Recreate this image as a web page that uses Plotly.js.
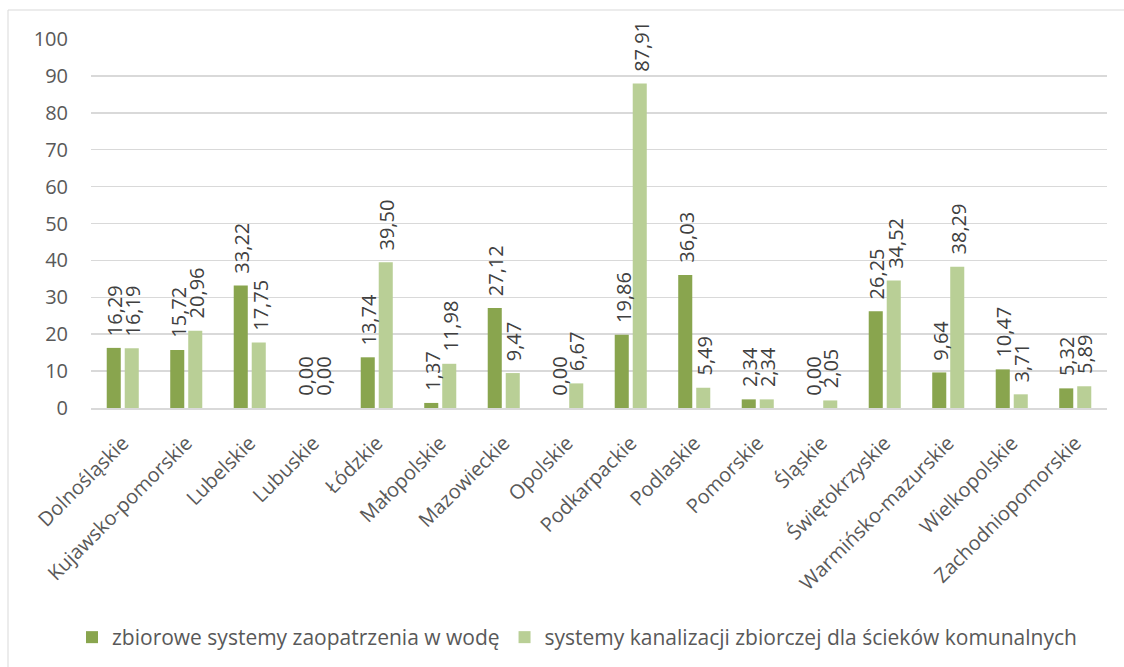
<!DOCTYPE html>
<html>
<head>
<meta charset="utf-8">
<script src="https://cdn.plot.ly/plotly-3.0.1.min.js"></script>
<style>html,body{margin:0;padding:0;background:#fff;}#chart{width:1124px;height:667px;}</style>
</head>
<body>
<div id="chart"></div>
<script>
var categories = ["Dolnośląskie","Kujawsko-pomorskie","Lubelskie","Lubuskie","Łódzkie","Małopolskie","Mazowieckie","Opolskie","Podkarpackie","Podlaskie","Pomorskie","Śląskie","Świętokrzyskie","Warmińsko-mazurskie","Wielkopolskie","Zachodniopomorskie"];
var waterValues = [16.29,15.72,33.22,0.00,13.74,1.37,27.12,0.00,19.86,36.03,2.34,0.00,26.25,9.64,10.47,5.32];
var sewerValues = [16.19,20.96,17.75,0.00,39.50,11.98,9.47,6.67,87.91,5.49,2.34,2.05,34.52,38.29,3.71,5.89];
var seriesNames = ["zbiorowe systemy zaopatrzenia w wodę","systemy kanalizacji zbiorczej dla ścieków komunalnych"];
var yTicks = [0,10,20,30,40,50,60,70,80,90,100];

var colors = ["#89A54E","#B9CF96"];
var FONT = "Open Sans, sans-serif";
function fmt(v){ return v.toFixed(2).replace('.', ','); }

var traces = [
  {type:'bar', x:categories, y:waterValues, name:seriesNames[0], marker:{color:colors[0]}, hoverinfo:'none'},
  {type:'bar', x:categories, y:sewerValues, name:seriesNames[1], marker:{color:colors[1]}, hoverinfo:'none'}
];

var annotations = [];
[waterValues, sewerValues].forEach(function(vals, s){
  vals.forEach(function(v, i){
    annotations.push({
      x: categories[i], y: v, xref:'x', yref:'y',
      text: fmt(v), showarrow:false, textangle:-90,
      xanchor:'center', yanchor:'bottom',
      xshift: s === 0 ? -8 : 10, yshift: 10,
      font:{family:FONT, size:20, color:'#404040'}
    });
  });
});

var L = 91, R = 17, T = 39, B = 259;
var pw = 1124 - L - R, ph = 667 - T - B;

var layout = {
  width:1124, height:667,
  margin:{l:L, r:R, t:T, b:B, pad:0, autoexpand:false},
  paper_bgcolor:'#fff', plot_bgcolor:'#fff',
  font:{family:FONT, size:20, color:'#595959'},
  barmode:'group', bargap:0.433, bargroupgap:0.22,
  showlegend:true,
  legend:{orientation:'h', x:(577-L)/pw, xanchor:'center', y:(408-617)/ph, yanchor:'top',
    font:{family:FONT, size:21, color:'#595959'}, itemwidth:30, traceorder:'normal'},
  xaxis:{type:'category', tickangle:-45, showgrid:false, zeroline:false,
    showline:true, linecolor:'#D9D9D9', linewidth:1.5, ticks:'', ticklabelstandoff:14,
    tickfont:{family:FONT, size:20, color:'#595959'}, automargin:false},
  yaxis:{range:[0,100], tickvals:yTicks, ticktext:yTicks.map(String), showgrid:true, gridcolor:'#D9D9D9', gridwidth:1.5,
    zeroline:false, showline:false, ticks:'', ticklabelstandoff:22,
    tickfont:{family:FONT, size:20, color:'#595959'}, automargin:false, fixedrange:true},
  annotations: annotations,
  shapes:[{type:'rect', xref:'paper', yref:'paper',
    x0:(8-L)/pw, x1:(1130-L)/pw, y0:(408-680)/ph, y1:(408-10)/ph,
    line:{color:'#D9D9D9', width:1}, fillcolor:'rgba(0,0,0,0)', layer:'below'}]
};

Plotly.newPlot('chart', traces, layout, {displayModeBar:false, staticPlot:true});
</script>
</body>
</html>
